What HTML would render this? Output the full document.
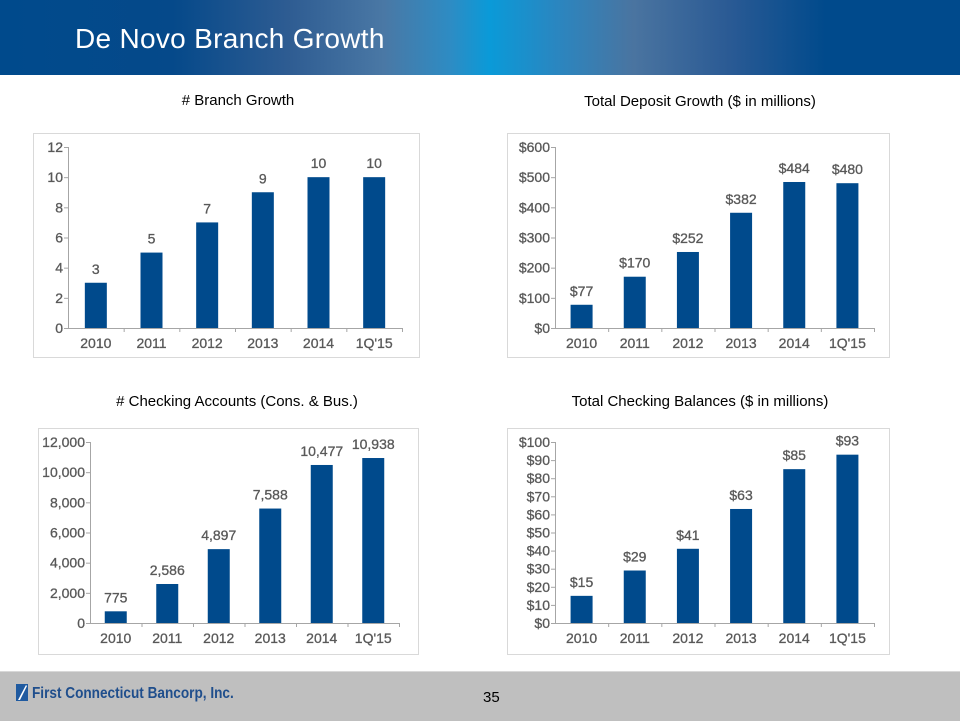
<!DOCTYPE html>
<html><head><meta charset="utf-8"><style>
body{margin:0;width:960px;height:720px;overflow:hidden;background:#fff;font-family:"Liberation Sans",sans-serif;position:relative}
#hdr{position:absolute;left:0;top:0;width:960px;height:75px;background:linear-gradient(90deg,#004a8c 0%,#05498a 18%,#2e5c92 30%,#4a78a5 40%,#2d8cc4 47%,#0a9ad8 51%,#2a86c0 58%,#4a74a0 66%,#2a5a94 76%,#004a8c 86%,#004a8c 100%)}
#title{position:absolute;left:75px;top:23px;color:#fff;font-size:28px;letter-spacing:0.3px}
.ct{position:absolute;font-size:15px;color:#000;text-align:center;width:400px}
#ftr{position:absolute;left:0;top:671px;width:960px;height:49px;background:#bfbfbf;border-top:1px solid #d8d8d8}
#brand{position:absolute;left:32px;top:685px;color:#1f4e8c;font-weight:bold;font-size:16px;transform:scaleX(0.85);transform-origin:left}
#pg{position:absolute;left:483px;top:689px;font-size:15px;color:#000}
svg{position:absolute;left:0;top:0}
</style></head><body>
<div id="hdr"></div>
<div id="title">De Novo Branch Growth</div>
<div class="ct" style="left:38px;top:92px"># Branch Growth</div>
<div class="ct" style="left:500px;top:93px">Total Deposit Growth ($ in millions)</div>
<div class="ct" style="left:37px;top:393px"># Checking Accounts (Cons. &amp; Bus.)</div>
<div class="ct" style="left:500px;top:393px">Total Checking Balances ($ in millions)</div>
<div id="ftr"></div>
<svg width="960" height="720" id="c">
<g><rect x="16" y="684" width="12" height="17" fill="#1f5aa0"/><path d="M26 685 L18 700 L20 700 L27 686Z" fill="#fff"/></g>
</svg>
<div id="brand">First Connecticut Bancorp, Inc.</div>
<div id="pg">35</div>
<script>
const categories=["2010","2011","2012","2013","2014","1Q'15"];
const branchValues=[3,5,7,9,10,10];
const branchLabels=["3","5","7","9","10","10"];
const branchTicks=["0","2","4","6","8","10","12"];
const depositValues=[77,170,252,382,484,480];
const depositLabels=["$77","$170","$252","$382","$484","$480"];
const depositTicks=["$0","$100","$200","$300","$400","$500","$600"];
const accountValues=[775,2586,4897,7588,10477,10938];
const accountLabels=["775","2,586","4,897","7,588","10,477","10,938"];
const accountTicks=["0","2,000","4,000","6,000","8,000","10,000","12,000"];
const balanceValues=[15,29,41,63,85,93];
const balanceLabels=["$15","$29","$41","$63","$85","$93"];
const balanceTicks=["$0","$10","$20","$30","$40","$50","$60","$70","$80","$90","$100"];
const NS="http://www.w3.org/2000/svg";
const svg=document.getElementById('c');
function mk(t,a,txt){const e=document.createElementNS(NS,t);for(const k in a)e.setAttribute(k,a[k]);if(txt!=null)e.textContent=txt;svg.appendChild(e);return e;}
function chart(id,box,ax,vals,labs,ticks,max){
  const b=mk('rect',{x:box[0]+.5,y:box[1]+.5,width:box[2],height:box[3],fill:'#fff',stroke:'#d9d9d9'});
  
  
  const [x0,x1,y0,yTop]=ax;
  const ys=v=>y0-(v/max)*(y0-yTop);
  const step=(x1-x0)/categories.length;
  const xs=i=>x0+step*(i+0.5);
  const yl=mk('line',{x1:x0+.5,y1:yTop,x2:x0+.5,y2:y0,stroke:'#a6a6a6'});
  
  
  const xl=mk('line',{x1:x0,y1:y0+.5,x2:x1,y2:y0+.5,stroke:'#a6a6a6'});
  
  
  ticks.forEach((t,i)=>{
    const v=max*i/(ticks.length-1);const y=ys(v);
    const tk=mk('line',{x1:x0-4,y1:y+.5,x2:x0,y2:y+.5,stroke:'#a6a6a6'});
    
    
    const tl=mk('text',{x:x0-5,y:y+5,'text-anchor':'end','font-size':14,fill:'#595959','stroke':'#595959','stroke-width':0.3},t);
    
    
  });
  categories.forEach((c,i)=>{
    const xt=mk('line',{x1:x0+step*(i+1)+.5,y1:y0,x2:x0+step*(i+1)+.5,y2:y0+4,stroke:'#a6a6a6'});
    
    
    const cx=xs(i);const y=ys(vals[i]);
    const r=mk('rect',{x:cx-11,y:y,width:22,height:y0-y,fill:'#004a8c'});
    
    
    const vl=mk('text',{x:cx,y:y-9,'text-anchor':'middle','font-size':14,fill:'#595959','stroke':'#595959','stroke-width':0.3},labs[i]);
    
    
    const cl=mk('text',{x:cx,y:y0+20,'text-anchor':'middle','font-size':14,fill:'#595959','stroke':'#595959','stroke-width':0.3},c);
    
    
  });
}
chart('branch',[33,133,386,224],[68,402,328,147],branchValues,branchLabels,branchTicks,12);
chart('deposit',[507,133,382,224],[555,874,328,147],depositValues,depositLabels,depositTicks,600);
chart('accounts',[38,428,380,226],[90,399,623,442],accountValues,accountLabels,accountTicks,12000);
chart('balances',[507,428,382,226],[555,874,623,442],balanceValues,balanceLabels,balanceTicks,100);
</script>
</body></html>
